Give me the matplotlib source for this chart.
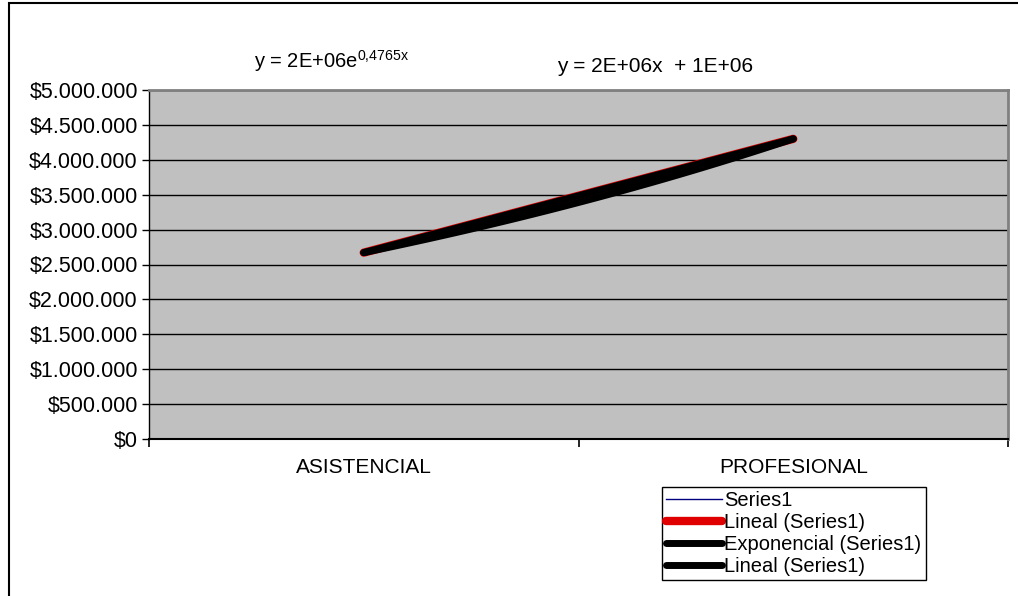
import numpy as np
import matplotlib.pyplot as plt
from matplotlib.patches import Rectangle
from matplotlib.ticker import FuncFormatter

plt.rcParams['font.family'] = ['Liberation Sans', 'DejaVu Sans']

# Salary per category
categories = ['ASISTENCIAL', 'PROFESIONAL']
values = [2670000, 4300000]
labels = ['Series1', 'Lineal (Series1)', 'Exponencial (Series1)', 'Lineal (Series1)']

x = np.arange(1, len(categories) + 1)
y = np.array(values, dtype=float)

# linear and exponential trendlines, fitted on the category index
m, c = np.polyfit(x, y, 1)
b, ln_a = np.polyfit(x, np.log(y), 1)
a = np.exp(ln_a)
xt = np.linspace(x[0], x[-1], 100)
lin = m * xt + c
expo = a * np.exp(b * xt)

fig = plt.figure(figsize=(10.18, 5.96), dpi=100)
ax = fig.add_axes([149/1018, 1 - 439/596, (1008 - 149)/1018, (439 - 90)/596])
ax.set_facecolor('#c0c0c0')

ax.plot(x, y, color='#000080', lw=1, label=labels[0], zorder=3)
ax.plot(xt, lin, color='#e00000', lw=6, solid_capstyle='round', label=labels[1], zorder=4)
ax.plot(xt, expo, color='black', lw=5, solid_capstyle='round', label=labels[2], zorder=5)
ax.plot(xt, lin, color='black', lw=5, solid_capstyle='round', label=labels[3], zorder=6)

ax.set_xlim(0.5, len(categories) + 0.5)
ax.set_ylim(0, 5000000)
ax.set_yticks(np.arange(0, 5000001, 500000))
ax.yaxis.set_major_formatter(FuncFormatter(lambda v, p: '$' + f'{v:,.0f}'.replace(',', '.')))
ax.grid(axis='y', color='black', lw=1)
ax.set_axisbelow(True)

ax.set_xticks(np.arange(0.5, len(categories) + 1, 1))
ax.set_xticklabels([])
ax.set_xticks(x, minor=True)
ax.set_xticklabels(categories, minor=True)
ax.tick_params(axis='x', which='minor', length=0, pad=14, labelsize=15)
ax.tick_params(axis='x', which='major', length=6, width=1.2, direction='out')
ax.tick_params(axis='y', length=5, width=1, direction='out', pad=3, labelsize=15.5)

for s in ['top', 'right']:
    ax.spines[s].set_color('#808080')
    ax.spines[s].set_linewidth(2)
ax.spines['bottom'].set_linewidth(1.5)
ax.spines['left'].set_linewidth(1)

# trendline equations
fig.text(254/1018, 1 - 61/596, 'y = 2E+06e$^{\\mathregular{0{,}4765x}}$', fontsize=14.5,
         va='center', ha='left')
fig.text(655/1018, 1 - 66/596, 'y = 2E+06x  + 1E+06', fontsize=15, va='center', ha='center')

leg = ax.legend(loc='upper left', bbox_to_anchor=(662/1018, 1 - 487/596),
                bbox_transform=fig.transFigure, borderaxespad=0, fancybox=False,
                framealpha=1, edgecolor='black', fontsize=14.5, handlelength=2.8,
                handletextpad=0.1, labelspacing=0.15, borderpad=0.2)
leg.get_frame().set_linewidth(1)

# outer chart border
fig.patches.append(Rectangle((9/1018, -0.1), 1.2, 1.1 - 3/596, transform=fig.transFigure,
                             fill=False, edgecolor='black', lw=1.5))

fig.savefig('out.png', dpi=100)
